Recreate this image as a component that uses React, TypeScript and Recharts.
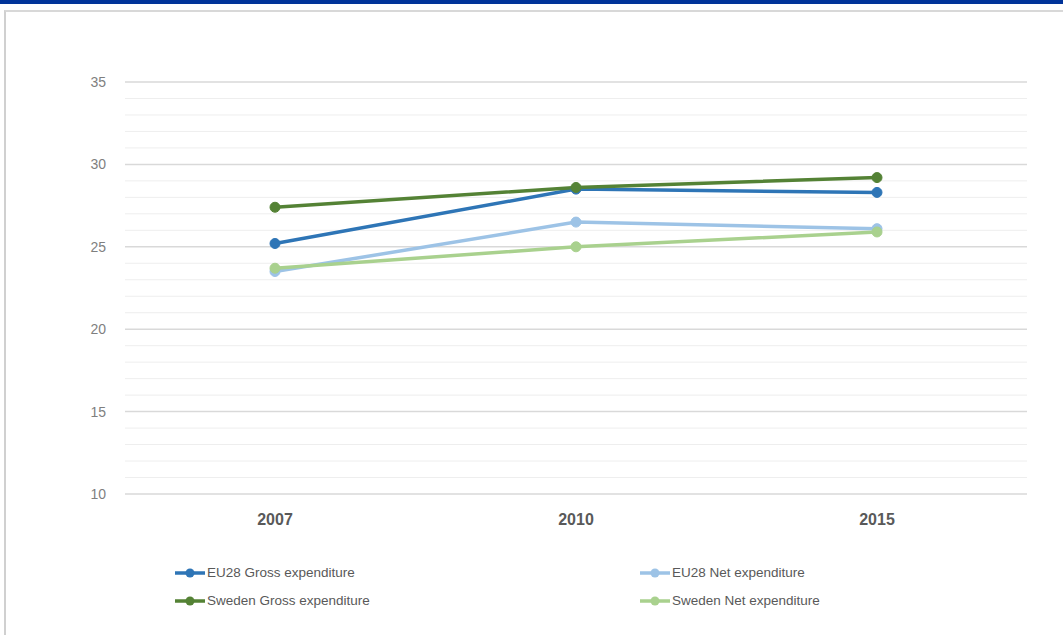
import { LineChart, Line, XAxis, YAxis, ReferenceLine } from 'recharts';

const years = ['2007', '2010', '2015'];
const eu28Gross = [25.2, 28.5, 28.3];
const eu28Net = [23.5, 26.5, 26.1];
const swedenGross = [27.4, 28.6, 29.2];
const swedenNet = [23.7, 25.0, 25.9];

const yTicks = [10, 11, 12, 13, 14, 15, 16, 17, 18, 19, 20, 21, 22, 23, 24, 25, 26, 27, 28, 29, 30, 31, 32, 33, 34, 35];
const yLabels = [10, 15, 20, 25, 30, 35];

const series = [
  { key: 'eu28Gross', name: 'EU28 Gross expenditure', color: '#2e75b6' },
  { key: 'eu28Net', name: 'EU28 Net expenditure', color: '#9dc3e6' },
  { key: 'swedenGross', name: 'Sweden Gross expenditure', color: '#548235' },
  { key: 'swedenNet', name: 'Sweden Net expenditure', color: '#a9d18e' },
];

const data = years.map((year, i) => ({
  year,
  eu28Gross: eu28Gross[i],
  eu28Net: eu28Net[i],
  swedenGross: swedenGross[i],
  swedenNet: swedenNet[i],
}));

const font = '"Liberation Sans", Arial, sans-serif';

function YTick({ x, y, payload }: any) {
  if (!yLabels.includes(payload.value)) return null;
  return (
    <text x={x} y={y} dy={5} textAnchor="end" fill="#7f7f7f" fontSize={14} fontFamily={font}>
      {payload.value}
    </text>
  );
}

function LegendItem({ name, color, left, top }: { name: string; color: string; left: number; top: number }) {
  return (
    <div style={{ position: 'absolute', left, top, display: 'flex', alignItems: 'center', fontFamily: font, fontSize: 13.5, color: '#595959' }}>
      <svg width={30} height={12} style={{ marginRight: 2 }}>
        <line x1={0} y1={6} x2={30} y2={6} stroke={color} strokeWidth={3.5} />
        <circle cx={15} cy={6} r={4.5} fill={color} />
      </svg>
      {name}
    </div>
  );
}

export default function App() {
  return (
    <div style={{ position: 'fixed', left: 0, top: 0, width: 1063, height: 635, overflow: 'hidden', background: '#fff' }}>
      <div style={{ position: 'absolute', left: 0, top: 0, width: 1063, height: 4, background: '#003399' }} />
      <div
        style={{
          position: 'absolute',
          left: 4,
          top: 10,
          width: 1080,
          height: 640,
          borderLeft: '2px solid #d0d0d0',
          borderTop: '2px solid #d8d8d8',
        }}
      />
      <div style={{ position: 'absolute', left: 0, top: 0 }}>
        <LineChart width={1063} height={545} data={data} margin={{ top: 82, right: 36, bottom: 0, left: 0 }}>
          {yTicks.map((t) => (
            <ReferenceLine
              key={t}
              y={t}
              stroke={yLabels.includes(t) ? '#d9d9d9' : '#eeeeee'}
              strokeWidth={yLabels.includes(t) ? 1.5 : 1}
            />
          ))}
          <XAxis
            dataKey="year"
            axisLine={false}
            tickLine={false}
            padding={{ left: 150, right: 150 }}
            height={51}
            tickMargin={14}
            tick={{ fill: '#595959', fontSize: 16, fontWeight: 'bold', fontFamily: font }}
          />
          <YAxis
            width={125}
            domain={[10, 35]}
            ticks={yTicks}
            interval={0}
            axisLine={false}
            tickLine={false}
            tickMargin={13}
            tick={<YTick />}
          />
          {series.map((s) => (
            <Line
              key={s.key}
              dataKey={s.key}
              name={s.name}
              stroke={s.color}
              strokeWidth={3.5}
              dot={{ r: 5, fill: s.color, stroke: s.color, strokeWidth: 1 }}
              activeDot={false}
              isAnimationActive={false}
            />
          ))}
        </LineChart>
      </div>
      <LegendItem name={series[0].name} color={series[0].color} left={175} top={565} />
      <LegendItem name={series[1].name} color={series[1].color} left={640} top={565} />
      <LegendItem name={series[2].name} color={series[2].color} left={175} top={593} />
      <LegendItem name={series[3].name} color={series[3].color} left={640} top={593} />
    </div>
  );
}
